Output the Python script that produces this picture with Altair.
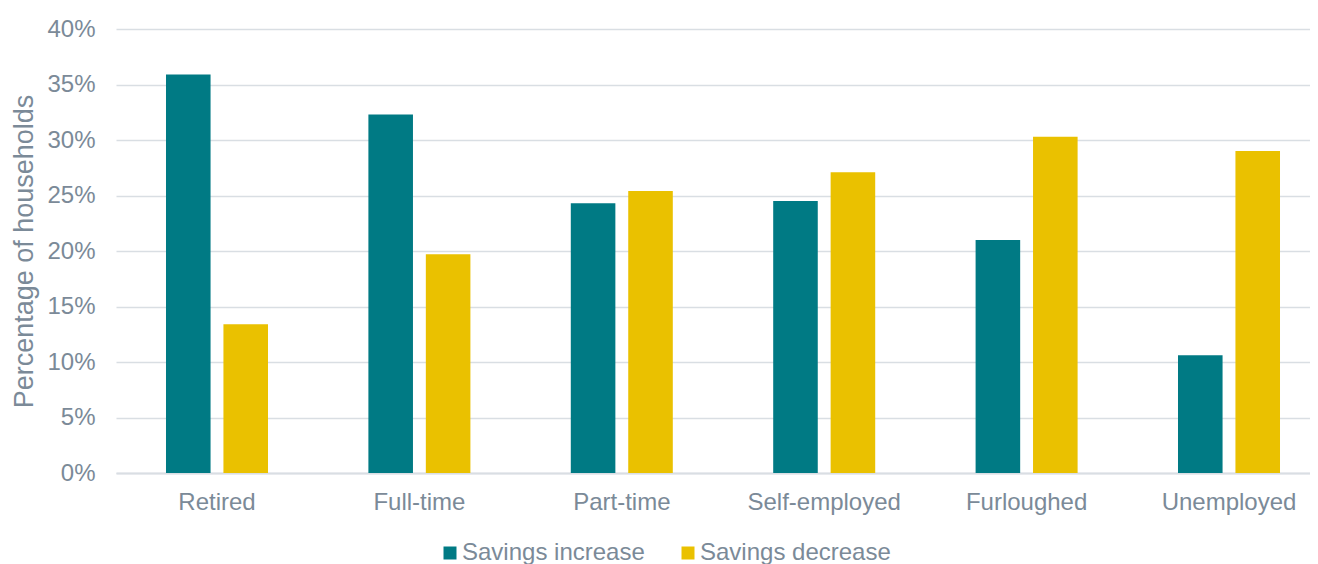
import altair as alt
import pandas as pd

categories = ["Retired", "Full-time", "Part-time", "Self-employed", "Furloughed", "Unemployed"]
series = ["Savings increase", "Savings decrease"]
increase = [0.359, 0.323, 0.243, 0.245, 0.210, 0.106]
decrease = [0.134, 0.197, 0.254, 0.271, 0.303, 0.290]

rows = []
for c, a, b in zip(categories, increase, decrease):
    rows.append({"category": c, "series": series[0], "value": a})
    rows.append({"category": c, "series": series[1], "value": b})
df = pd.DataFrame(rows)

grey = "#7b8a98"
font = "Liberation Sans"

chart = alt.Chart(df).mark_bar().encode(
    x=alt.X("category:N", sort=categories, title=None,
            scale=alt.Scale(paddingInner=0.496, paddingOuter=0.247, range=[0, 1214]),
            axis=alt.Axis(labelAngle=0, labelFontSize=24, labelColor=grey, labelFont=font,
                          ticks=False, domainColor="#d9dee3", domainWidth=2, labelPadding=17)),
    xOffset=alt.XOffset("series:N", sort=series, scale=alt.Scale(paddingInner=0.224)),
    y=alt.Y("value:Q", title="Percentage of households",
            scale=alt.Scale(domain=[0, 0.4]),
            axis=alt.Axis(format=".0%", values=[0, 0.05, 0.1, 0.15, 0.2, 0.25, 0.3, 0.35, 0.4],
                          labelFontSize=24, labelColor=grey, labelFont=font,
                          titleFontSize=27, titleColor=grey, titleFont=font, titleFontWeight="normal",
                          ticks=False, domain=False, gridColor="#d9dee3", gridWidth=1.5,
                          labelPadding=21, titlePadding=8)),
    color=alt.Color("series:N", sort=series,
                    scale=alt.Scale(domain=series, range=["#007a84", "#eac100"]),
                    legend=alt.Legend(orient="none", legendX=322, legendY=512,
                                      direction="horizontal", title=None,
                                      symbolType="square", symbolSize=169, symbolStrokeWidth=0,
                                      labelFontSize=24, labelColor=grey, labelFont=font,
                                      labelLimit=400, labelOffset=0, columnPadding=31)),
).properties(
    width=1194, height=444,
    autosize=alt.AutoSizeParams(type="none"),
    padding={"left": 108, "top": 21, "right": 0, "bottom": 91},
).configure_view(stroke=None)

chart.save("out.html", embed_options={"renderer": "svg", "actions": False})
